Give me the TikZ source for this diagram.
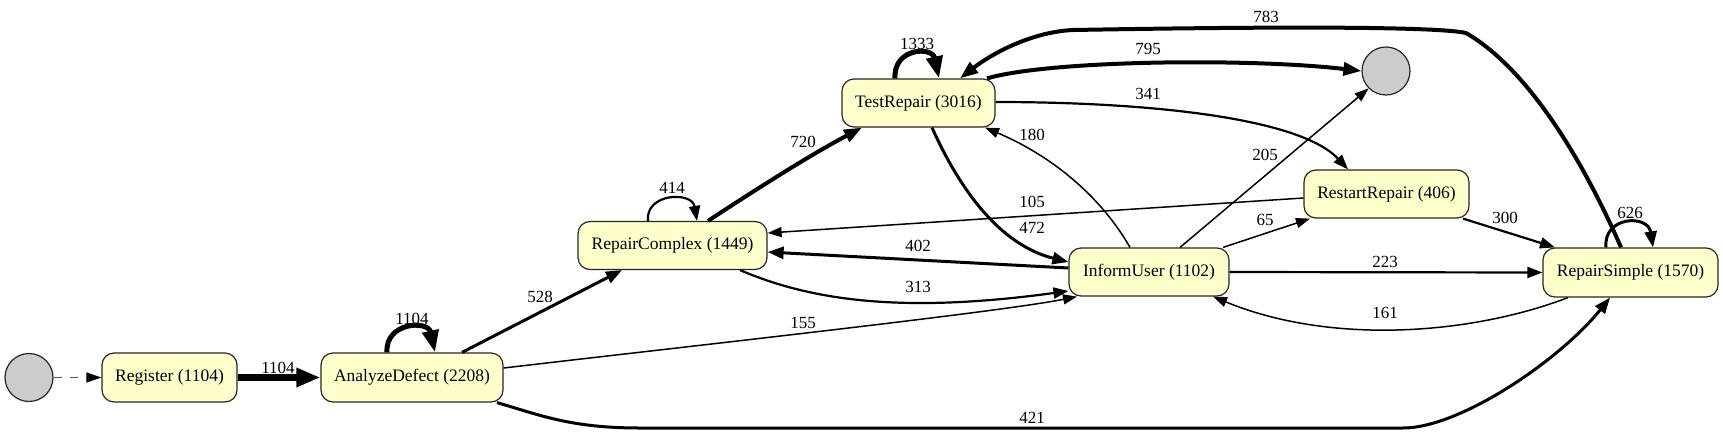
\documentclass[tikz,border=0pt]{standalone}
\usepackage{fontspec}
\setmainfont{Liberation Serif}
\newfontfamily\tms{Liberation Serif}
\usetikzlibrary{arrows.meta}
\definecolor{nodefill}{HTML}{FFFFCC}
\definecolor{circfill}{HTML}{CCCCCC}
\begin{document}
\begin{tikzpicture}[x=1pt,y=-1pt,
  act/.style={rectangle, rounded corners=12pt, draw=black!85, line width=1.2pt,
    fill=nodefill, minimum height=48pt, inner sep=0pt,
    font=\tms\fontsize{17.5}{20}\selectfont},
  ev/.style={circle, draw=black!85, line width=1.2pt, fill=circfill,
    minimum size=48pt, inner sep=0pt},
  lbl/.style={inner sep=0pt, font=\tms\fontsize{17}{20}\selectfont},
  w1/.style={line width=1.5pt, -{Triangle[length=14pt,width=10pt]}},
  w2/.style={line width=2.2pt, -{Triangle[length=15pt,width=11pt]}},
  w3/.style={line width=3pt, -{Triangle[length=16pt,width=12pt]}},
  w4/.style={line width=4pt, -{Triangle[length=18pt,width=13pt]}},
  w5/.style={line width=5pt, -{Triangle[length=22pt,width=16pt]}},
  w6/.style={line width=6.5pt, -{Triangle[length=24pt,width=18pt]}},
  dsh/.style={line width=1.3pt, draw=black!65, dash pattern=on 8pt off 8pt,
    -{Triangle[length=15pt,width=10pt,color=black]}}
]
\useasboundingbox (0,0) rectangle (1723,434);

% nodes
\node[ev] (start) at (29,377.5) {};
\node[act, minimum width=135pt, minimum height=49pt] (reg) at (169.5,377.5) {Register (1104)};
\node[act, minimum width=182pt, minimum height=49pt] (ana) at (412,377.5) {AnalyzeDefect (2208)};
\node[act, minimum width=189pt] (rc) at (672.5,245.5) {RepairComplex (1449)};
\node[act, minimum width=153pt] (tr) at (918.5,103) {TestRepair (3016)};
\node[ev] (end) at (1386,71) {};
\node[act, minimum width=160pt] (iu) at (1149,272) {InformUser (1102)};
\node[act, minimum width=165pt] (rr) at (1386.5,194) {RestartRepair (406)};
\node[act, minimum width=175pt, minimum height=49pt] (rs) at (1630.5,272.5) {RepairSimple (1570)};

% edges
\draw[dsh] (start.east) -- (reg.west);
\draw[w6] (reg.east) -- (ana.west);
\node[lbl] (l1) at (278,368) {1104};

\draw[w5] ([xshift=-25pt]ana.north) .. controls (385,322) and (428,320) .. ([xshift=23pt]ana.north);
\node[lbl] (l2) at (412,319) {1104};

\draw[w2] ([xshift=-24.5pt]rc.north) .. controls (645,193) and (692,191) .. ([xshift=24.5pt]rc.north);
\node[lbl] (l3) at (672,188) {414};

\draw[w5] ([xshift=-23.5pt]tr.north) .. controls (893,48) and (932,46) .. ([xshift=20.5pt]tr.north);
\node[lbl] (l4) at (917,44) {1333};

\draw[w3] ([xshift=-24.5pt]rs.north) .. controls (1603,216) and (1648,214) .. ([xshift=22.5pt]rs.north);
\node[lbl] (l5) at (1630,213) {626};

\draw[w3] ([xshift=50pt]ana.north) -- ([xshift=-50.5pt]rc.south);
\node[lbl] (l6) at (540,297) {528};

\draw[w4] ([xshift=35.5pt]rc.north) .. controls (755,190) and (810,155) .. ([xshift=-56.5pt]tr.south);
\node[lbl] (l7) at (803,142) {720};

\draw[w4] ([xshift=68.5pt]tr.north) .. controls (1050,60) and (1250,58) .. (end.west);
\node[lbl] (l8) at (1148,49) {795};

\draw[w4] ([xshift=-9.5pt]rs.north) .. controls (1585,165) and (1530,70) .. (1466,33)
   .. controls (1440,27) and (1300,26) .. (1073,30)
   .. controls (1030,32) and (990,55) .. ([xshift=41.5pt]tr.north);
\node[lbl] (l9) at (1266,17) {783};

\draw[w2] ([yshift=1pt]tr.east) .. controls (1150,102) and (1300,118) .. ([xshift=-38.5pt]rr.north);
\node[lbl] (l10) at (1148,94) {341};

\draw[w3] ([xshift=13.5pt]tr.south) .. controls (960,190) and (1000,245) .. ([yshift=10pt]iu.west);
\node[lbl] (l11) at (1032,228) {472};

\draw[w1] ([xshift=-19pt]iu.north) .. controls (1100,195) and (1050,155) .. ([xshift=66.5pt]tr.south);
\node[lbl] (l12) at (1032,135) {180};

\draw[w1] ([xshift=31pt]iu.north) -- (end.225);
\node[lbl] (l13) at (1265,155) {205};

\draw[w1] ([yshift=-4pt]rr.west) -- ([yshift=12.5pt]rc.east);
\node[lbl] (l14) at (1032,202) {105};

\draw[w1] ([xshift=74pt]iu.north) -- ([xshift=-76.5pt]rr.south);
\node[lbl] (l15) at (1265,220) {65};

\draw[w3] ([yshift=4pt]iu.west) -- ([yshift=-6.5pt]rc.east);
\node[lbl] (l16) at (918,246) {402};

\draw[w2] ([xshift=67.5pt]rc.south) .. controls (810,300) and (900,314) .. ([yshift=-19pt]iu.west);
\node[lbl] (l17) at (918,287) {313};

\draw[w1] ([yshift=9.5pt]ana.east) .. controls (700,345) and (1000,312) .. ([xshift=-72pt]iu.south);
\node[lbl] (l18) at (803,323) {155};

\draw[w3] ([xshift=85pt]ana.south) .. controls (540,415) and (570,428) .. (640,428)
   -- (1403,428) .. controls (1460,428) and (1560,360) .. ([xshift=-20.5pt]rs.south);
\node[lbl] (l19) at (1032,418) {421};

\draw[w2] (iu.east) -- (rs.west);
\node[lbl] (l20) at (1385,262) {223};

\draw[w1] ([xshift=-62.5pt]rs.south) .. controls (1470,335) and (1330,345) .. ([xshift=64pt]iu.south);
\node[lbl] (l21) at (1385,313) {161};

\draw[w2] ([xshift=76.5pt]rr.south) -- ([xshift=-75.5pt]rs.north);
\node[lbl] (l22) at (1505,218) {300};
\end{tikzpicture}
\end{document}
